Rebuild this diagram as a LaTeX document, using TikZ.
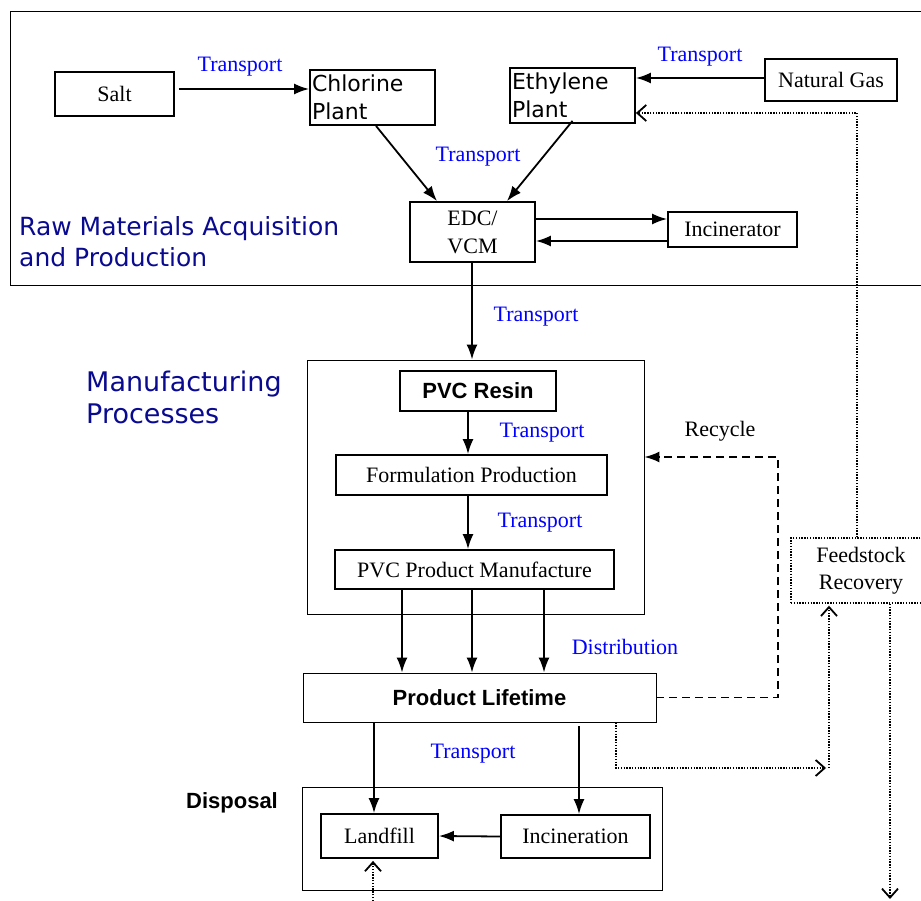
\documentclass[tikz,border=0pt]{standalone}
\usepackage{fontspec}
\setmainfont{Liberation Serif}
\newfontfamily\dvfont{DejaVu Sans}
\newfontfamily\arfont{Liberation Sans}
\usetikzlibrary{arrows.meta}
\definecolor{navyblue}{RGB}{10,10,145}
\definecolor{tblue}{RGB}{0,0,255}
\tikzset{
  box/.style={draw, line width=1.8pt, inner sep=0pt, align=center, font=\fontsize{22}{27}\selectfont},
  plantbox/.style={draw, line width=1.8pt, inner sep=2pt, align=left, minimum width=125pt, minimum height=55pt, text width=121pt, font=\dvfont\fontsize{22}{28}\selectfont},
  container/.style={draw, line width=0.9pt, inner sep=0pt},
  lbl/.style={text=tblue, inner sep=0pt, font=\fontsize{22}{26}\selectfont},
  arr/.style={line width=1.8pt, -{Latex[length=15pt,width=11pt]}},
  dotarr/.style={line width=1.4pt, dash pattern=on 1.4pt off 1.4pt, -{Straight Barb[length=9pt,width=16pt,line width=1.8pt]}},
  dotline/.style={line width=1.4pt, dash pattern=on 1.4pt off 1.4pt},
  dasharr/.style={line width=1.8pt, dash pattern=on 8pt off 5pt, -{Latex[length=15pt,width=11pt]}},
}
\begin{document}
\begin{tikzpicture}[x=1pt,y=-1pt]
\useasboundingbox (0,0) rectangle (921,901);
% top container (open to the right)
\draw[line width=0.9pt] (925,11) -- (10,11) -- (10,285) -- (925,285);
\node[anchor=west, align=left, text=navyblue, inner sep=0pt, font=\dvfont\fontsize{25}{31}\selectfont] (rawlbl) at (19,242) {Raw Materials Acquisition\\and Production};

\node[box, minimum width=119pt, minimum height=44pt] (salt) at (114.5,94) {Salt};
\node[plantbox] (chlor) at (372.5,97.5) {Chlorine\\Plant};
\node[plantbox] (ethyl) at (572.5,95.5) {Ethylene\\Plant};
\node[box, minimum width=132pt, minimum height=42pt] (gas) at (831,80) {Natural Gas};
\node[box, minimum width=125pt, minimum height=60pt, font=\fontsize{22}{28}\selectfont] (edc) at (472.5,232) {EDC/\\VCM};
\node[box, minimum width=129pt, minimum height=35pt] (incin) at (732.5,229.5) {Incinerator};

\node[lbl] (t1) at (240,67) {Transport};
\node[lbl] (t2) at (700,57) {Transport};
\node[lbl] (t3) at (478,157) {Transport};

\draw[arr, shorten <=4pt] (salt.east |- 0,89) -- (chlor.west |- 0,89);
\draw[arr] (gas.west |- 0,78) -- (ethyl.east |- 0,78);
\draw[arr] ([xshift=3.5pt]chlor.south) -- ([xshift=-35.5pt]edc.north);
\draw[arr] ([yshift=3pt]ethyl.south) -- ([xshift=34.5pt]edc.north);
\draw[arr] (edc.east |- 0,219) -- (incin.west |- 0,219);
\draw[arr] (incin.west |- 0,241) -- (edc.east |- 0,241);

% manufacturing
\node[container, minimum width=337pt, minimum height=254pt] (mfg) at (475.5,487) {};
\node[anchor=west, align=left, text=navyblue, inner sep=0pt, font=\dvfont\fontsize{27}{32}\selectfont] (mfglbl) at (86,397) {Manufacturing\\Processes};
\node[box, minimum width=156pt, minimum height=40pt, font=\arfont\bfseries\fontsize{22}{26}\selectfont] (resin) at (478,391) {PVC Resin};
\node[box, minimum width=271pt, minimum height=40pt] (form) at (471.5,475) {Formulation Production};
\node[box, minimum width=279pt, minimum height=39pt] (manu) at (474.5,569.5) {PVC Product Manufacture};
\node[lbl] (t4) at (536,317) {Transport};
\node[lbl] (t5) at (542,433) {Transport};
\node[lbl] (t6) at (540,523) {Transport};
\draw[arr] (edc.south -| 472,0) -- (mfg.north -| 472,0);
\draw[arr] (resin.south -| 468,0) -- (form.north -| 468,0);
\draw[arr] (form.south -| 468,0) -- (manu.north -| 468,0);

% product lifetime
\node[box, line width=0.9pt, minimum width=353pt, minimum height=49pt, font=\arfont\bfseries\fontsize{22}{26}\selectfont] (life) at (479.5,697.5) {Product Lifetime};
\node[lbl] (t7) at (625,647) {Distribution};
\draw[arr] (manu.south -| 402,0) -- (life.north -| 402,0);
\draw[arr] (manu.south -| 472,0) -- (life.north -| 472,0);
\draw[arr] (manu.south -| 544,0) -- (life.north -| 544,0);

% recycle
\node[inner sep=0pt, font=\fontsize{22}{26}\selectfont] (rec) at (720,431) {Recycle};
\draw[dasharr] (life.east) -| (778,457) -- (mfg.east |- 0,457);

% feedstock recovery
\node[draw, dotline, minimum width=140pt, minimum height=65pt, align=center, inner sep=0pt, font=\fontsize{22}{27}\selectfont] (feed) at (861,570.5) {Feedstock\\Recovery};
\draw[dotarr] (feed.north -| 857,0) |- (ethyl.east |- 0,113);
\draw[dotarr] (life.south -| 616,0) |- (826,768);
\draw[dotarr, shorten >=2pt] (829,768) -- (feed.south -| 829,0);
\draw[dotarr] (feed.south -| 890,0) -- (890,899);

% disposal
\node[container, minimum width=360pt, minimum height=103pt] (disp) at (482,838.5) {};
\node[inner sep=0pt, font=\arfont\bfseries\fontsize{22}{26}\selectfont] (displbl) at (232,803) {Disposal};
\node[box, minimum width=117pt, minimum height=44pt] (landfill) at (379.5,836) {Landfill};
\node[box, minimum width=149pt, minimum height=43pt] (incinr) at (575.5,836.5) {Incineration};
\node[lbl] (t8) at (473,754) {Transport};
\draw[arr] (life.south -| 374,0) -- (landfill.north -| 374,0);
\draw[arr, shorten <=4pt] (life.south -| 579,0) -- (incinr.north -| 579,0);
\draw[arr] (incinr.west) -- (landfill.east);
\draw[dotarr, shorten >=2pt] (373,901) -- (landfill.south -| 373,0);
\end{tikzpicture}
\end{document}
